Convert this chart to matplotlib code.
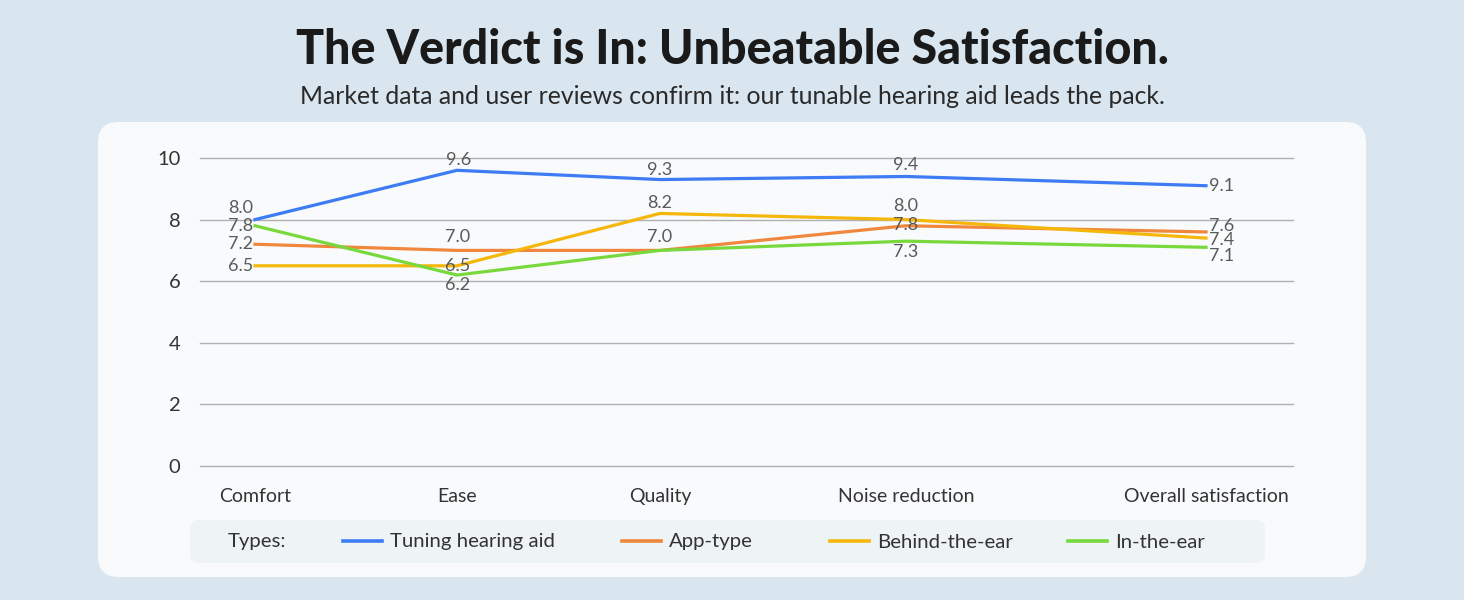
import matplotlib
matplotlib.use("Agg")
import matplotlib.pyplot as plt
from matplotlib.patches import FancyBboxPatch
from matplotlib.lines import Line2D

plt.rcParams["font.family"] = ["Lato", "DejaVu Sans"]

CATEGORIES = ["Comfort", "Ease", "Quality", "Noise reduction", "Overall satisfaction"]
SERIES = ["Tuning hearing aid", "App-type", "Behind-the-ear", "In-the-ear"]
TUNING = [8.0, 9.6, 9.3, 9.4, 9.1]
APP_TYPE = [7.2, 7.0, 7.0, 7.8, 7.6]
BEHIND_EAR = [6.5, 6.5, 8.2, 8.0, 7.4]
IN_EAR = [7.8, 6.2, 7.0, 7.3, 7.1]
Y_TICKS = [0, 2, 4, 6, 8, 10]

# layout (pixels in a 1464x600 canvas)
W, H = 1464, 600
CAT_POS = [255, 457, 660, 906, 1206]
COLORS = ["#3d7cf4", "#f0873c", "#f4b70a", "#79d83c"]
BG = "#dae6ef"
PANEL = "#f8fafc"

# label offsets in px (dx, dy) per series per point; None = hidden
LABEL_OFF = [
    [(-2, 12), (2, 10), (0, 10), (0, 11), (3, 0)],
    [(-2, 0), (1, 13), (0, 13), (0, 1), (3, 6)],
    [(-2, 0), (1, 0), (0, 10), (0, 14), (3, -2)],
    [(-2, 0), (1, -10), None, (0, -11), (3, -9)],
]


def fx(px):
    return px / W


def fy(py):
    return 1 - py / H


fig = plt.figure(figsize=(W / 100, H / 100), dpi=100, facecolor=BG)

panel = FancyBboxPatch((fx(98), fy(577)), fx(1366) - fx(98), fy(122) - fy(577),
                       boxstyle="round,pad=0,rounding_size=0.014",
                       transform=fig.transFigure, facecolor=PANEL, edgecolor="none",
                       mutation_aspect=W / H, zorder=-2)
fig.patches.append(panel)

fig.text(0.5, fy(50), "The Verdict is In: Unbeatable Satisfaction.", ha="center", va="center",
         fontsize=33.5, fontweight="black", color="#1a1a1a")
fig.text(0.5, fy(97), "Market data and user reviews confirm it: our tunable hearing aid leads the pack.",
         ha="center", va="center", fontsize=17.8, color="#2a2a2a")

ax = fig.add_axes([fx(200), fy(466), fx(1293) - fx(200), fy(158) - fy(466)])
ax.set_facecolor("none")
ax.set_xlim(200, 1293)
ax.set_ylim(0, 10)
for s in ax.spines.values():
    s.set_visible(False)
ax.set_yticks(Y_TICKS)
ax.set_yticklabels([str(t) for t in Y_TICKS], fontsize=14.5, color="#333333")
ax.tick_params(axis="y", length=0, pad=14)
ax.set_xticks(CAT_POS)
ax.set_xticklabels(CATEGORIES, fontsize=14, color="#333333")
ax.tick_params(axis="x", length=0, pad=16)
ax.grid(axis="y", color="#b0b0b0", linewidth=1)
for gl in ax.get_ygridlines():
    gl.set_clip_on(False)
ax.set_axisbelow(True)

all_vals = [TUNING, APP_TYPE, BEHIND_EAR, IN_EAR]
for vals, col, offs in zip(all_vals, COLORS, LABEL_OFF):
    ax.plot(CAT_POS, vals, color=col, linewidth=2.3, solid_joinstyle="round", zorder=3)
    for i, (x, v) in enumerate(zip(CAT_POS, vals)):
        o = offs[i]
        if o is None:
            continue
        if i == 0:
            ha = "right"
        elif i == len(vals) - 1:
            ha = "left"
        else:
            ha = "center"
        ax.annotate(f"{v:.1f}", (x, v), xytext=(o[0] * 0.72, o[1] * 0.72), textcoords="offset points",
                    ha=ha, va="center", fontsize=13, color="#5a5a5a", zorder=4)

# legend strip
leg = FancyBboxPatch((fx(190), fy(563)), fx(1265) - fx(190), fy(520) - fy(563),
                     boxstyle="round,pad=0,rounding_size=0.006",
                     transform=fig.transFigure, facecolor="#eef3f6", edgecolor="none",
                     mutation_aspect=W / H, zorder=-1)
fig.patches.append(leg)
fig.text(fx(228), fy(542), "Types:", ha="left", va="center", fontsize=14.7, color="#333333")
for name, col, x0 in zip(SERIES, COLORS, [343, 622, 830, 1068]):
    fig.add_artist(Line2D([fx(x0), fx(x0 + 39)], [fy(541), fy(541)], color=col, linewidth=2.6,
                          transform=fig.transFigure))
    fig.text(fx(x0 + 47), fy(542), name, ha="left", va="center", fontsize=14.7, color="#333333")

fig.savefig("out.png", dpi=100, facecolor=BG)
